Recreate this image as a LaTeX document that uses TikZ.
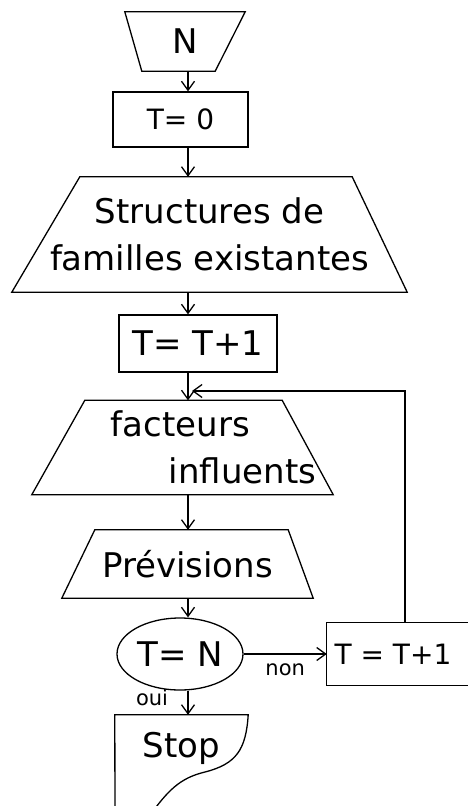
\documentclass[tikz,border=0pt]{standalone}
\usepackage{fontspec}
\setmainfont{DejaVu Sans}
\usepackage{tikz}
\usetikzlibrary{shapes.geometric}
\usetikzlibrary{arrows.meta}
\newcommand{\trapez}[5] % node, inset top left, top right, bottom left, bottom right (pt)
{
	\draw[rim] ([xshift=#2pt]#1.north west) -- ([xshift=-#3pt]#1.north east) -- ([xshift=-#5pt]#1.south east) -- ([xshift=#4pt]#1.south west) -- cycle;
}
\tikzset{
	rim/.style={line width=1.3pt},
	link/.style={line width=1.3pt, ->},
	box/.style={draw, line width=1.3pt, inner sep=0pt},
	area/.style={inner sep=0pt},
	bigtxt/.style={font=\fontsize{34}{47}\selectfont},
	midtxt/.style={font=\fontsize{28}{34}\selectfont},
	smalltxt/.style={font=\fontsize{21}{24}\selectfont}
}
\begin{document}
\begin{tikzpicture}[x=1pt, y=-1pt, >={Straight Barb[length=9pt,width=13pt]}]
	% frame: 1 unit = 1 px of the scan
	\useasboundingbox (0,0) rectangle (468,806);
	\clip (0,0) rectangle (468,806);
	\coordinate (spine) at (188,0);
	% input N
	\node[area, bigtxt, minimum width=120pt, minimum height=59pt] (n) at (185,41.5) {N};
	\trapez{n}{0}{0}{17}{30}
	% T = 0
	\node[box, midtxt, minimum width=135pt, minimum height=55pt] (t0) at (180.5,119.5) {T= 0};
	% structures
	\node[area, bigtxt, align=center, minimum width=395pt, minimum height=115pt] (struct) at (209.5,234.5) {Structures de\\familles existantes};
	\trapez{struct}{68}{55}{0}{0}
	% T = T+1
	\node[box, bigtxt, minimum width=158pt, minimum height=57pt] (inc) at (198,343.5) {T= T+1};
	% facteurs
	\node[area, bigtxt, align=left, minimum width=301pt, minimum height=94pt] (fact) at (182.5,447.5) {\hspace*{62pt}facteurs\\\hspace*{120pt}influents};
	\trapez{fact}{53}{51}{0}{0}
	% previsions
	\node[area, bigtxt, minimum width=251pt, minimum height=68pt] (prev) at (187.5,564) {Prévisions};
	\trapez{prev}{33}{25}{0}{0}
	% test and loop box (runs off the right edge)
	\node[box, ellipse, bigtxt, minimum width=126pt, minimum height=72pt] (test) at (180,654) {T= N};
	\node[area, midtxt, minimum width=132pt, minimum height=62pt] (inc2) at (393,654) {T = T+1};
	\draw[rim] ([xshift=60pt]inc2.north east) -- (inc2.north west) -- (inc2.south west) -- ([xshift=60pt]inc2.south east);
	% stop
	\node[area, bigtxt, minimum width=133pt, minimum height=66pt] (stop) at (181.5,748) {Stop};
	\draw[rim] (115,830) -- (stop.north west) -- (stop.north east) .. controls (246,750) and (236,764) .. (205,772) .. controls (180,778) and (168,790) .. (148,818);
	% connectors
	\draw[link] (n.south -| spine) -- (t0.north -| spine);
	\draw[link] (t0.south -| spine) -- (struct.north -| spine);
	\draw[link] (struct.south -| spine) -- (inc.north -| spine);
	\draw[link] (inc.south -| spine) -- (fact.north -| spine);
	\draw[link] (fact.south -| spine) -- (prev.north -| spine);
	\draw[link] (prev.south -| spine) -- (test.north -| spine);
	\draw[link] (test.south -| spine) -- node[smalltxt, pos=0.3, left=16pt] {oui} (stop.north -| spine);
	\draw[link] (test.east) -- node[smalltxt, below=6pt] {non} (inc2.west);
	\coordinate (back) at (192,391);
	\draw[link] ([xshift=12pt]inc2.north) |- (back);
\end{tikzpicture}
\end{document}
